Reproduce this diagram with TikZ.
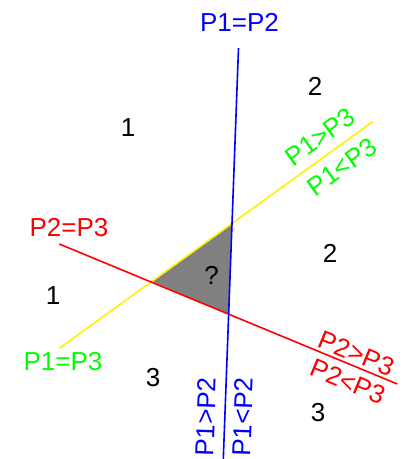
\documentclass[tikz,border=0pt]{standalone}
\usepackage{fontspec}
\setmainfont{Liberation Sans}
\begin{document}
\begin{tikzpicture}[x=1pt,y=-1pt,
  lbl/.style={inner sep=0pt,font=\fontsize{26}{28}\selectfont},
  ln/.style={line width=1.6pt}]
\useasboundingbox (0,0) rectangle (403,459);
\definecolor{brightgreen}{RGB}{0,255,0}
% line end points
\coordinate (b1) at (238.5,48);
\coordinate (b2) at (223.3,459);
\coordinate (y1) at (59.3,348.3);
\coordinate (y2) at (372.7,121.7);
\coordinate (r1) at (59.3,244);
\coordinate (r2) at (397.3,384);
% triangle
\coordinate (t1) at (152.7,281.7);
\coordinate (t2) at (232,224.5);
\coordinate (t3) at (228.7,314.2);
\fill[gray] (t1) -- (t2) -- (t3) -- cycle;
\draw[ln,yellow] (y1) -- (y2);
\draw[ln,red] (r1) -- (r2);
\draw[ln,blue] (b1) -- (b2);
% labels
\node[lbl,blue] (p12) at (239.5,22) {P1=P2};
\node[lbl,red] (p23) at (69,227.5) {P2=P3};
\node[lbl,brightgreen] (p13) at (63,362) {P1=P3};
\node[lbl,brightgreen,rotate=35.9] (g1) at (320,136.7) {P1>P3};
\node[lbl,brightgreen,rotate=35.9] (g2) at (341.7,166.7) {P1<P3};
\node[lbl,red,rotate=-22.5] (r1l) at (356.7,353.3) {P2>P3};
\node[lbl,red,rotate=-22.5] (r2l) at (348.3,381.7) {P2<P3};
\node[lbl,blue,rotate=88] (b1l) at (206,416.7) {P1>P2};
\node[lbl,blue,rotate=88] (b2l) at (242.7,416.7) {P1<P2};
\node[lbl] (n1a) at (128,128) {1};
\node[lbl] (n2a) at (315,86) {2};
\node[lbl] (n2b) at (330,253) {2};
\node[lbl] (q) at (211.7,275) {?};
\node[lbl] (n1b) at (53,296) {1};
\node[lbl] (n3a) at (153,378) {3};
\node[lbl] (n3b) at (318,413) {3};
\end{tikzpicture}
\end{document}
